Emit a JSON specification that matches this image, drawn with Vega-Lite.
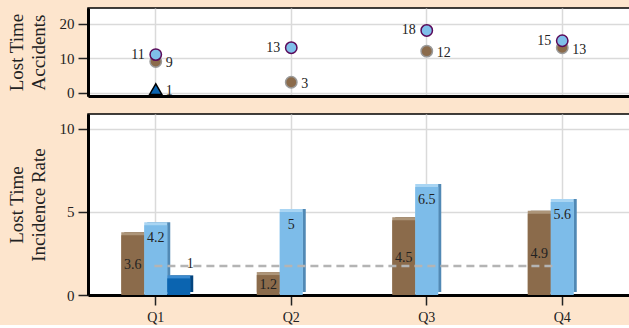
{
  "$schema": "https://vega.github.io/schema/vega-lite/v6.json",
  "background": "#fde5cd",
  "padding": {"left": 6, "top": 7, "right": 0, "bottom": 0},
  "config": {
    "font": "Liberation Serif",
    "view": {"stroke": "#000", "strokeWidth": 1.5, "fill": "white"},
    "axis": {
      "labelFont": "Liberation Serif", "titleFont": "Liberation Serif",
      "labelFontSize": 15, "titleFontSize": 19, "titleFontWeight": "normal",
      "labelColor": "#222", "titleColor": "#222",
      "domainColor": "#000", "domainWidth": 3,
      "tickColor": "#222", "tickWidth": 1.5, "tickSize": 10, "labelPadding": 4,
      "gridColor": "#dadada", "gridWidth": 1.5,
      "titleLineHeight": 22, "titlePadding": 11
    },
    "concat": {"spacing": 11}
  },
  "datasets": {
    "accidents": [
      {"quarter": "Q1", "series": "A", "value": 9},
      {"quarter": "Q2", "series": "A", "value": 3},
      {"quarter": "Q3", "series": "A", "value": 12},
      {"quarter": "Q4", "series": "A", "value": 13},
      {"quarter": "Q1", "series": "B", "value": 11},
      {"quarter": "Q2", "series": "B", "value": 13},
      {"quarter": "Q3", "series": "B", "value": 18},
      {"quarter": "Q4", "series": "B", "value": 15},
      {"quarter": "Q1", "series": "C", "value": 1}
    ],
    "rates": [
      {"quarter": "Q1", "series": "A", "value": 3.6},
      {"quarter": "Q2", "series": "A", "value": 1.2},
      {"quarter": "Q3", "series": "A", "value": 4.5},
      {"quarter": "Q4", "series": "A", "value": 4.9},
      {"quarter": "Q1", "series": "B", "value": 4.2},
      {"quarter": "Q2", "series": "B", "value": 5},
      {"quarter": "Q3", "series": "B", "value": 6.5},
      {"quarter": "Q4", "series": "B", "value": 5.6},
      {"quarter": "Q1", "series": "C", "value": 1}
    ],
    "average": [
      {"start": "Q1", "end": "Q4", "value": 1.75}
    ]
  },
  "vconcat": [
    {
      "width": 542,
      "height": 88,
      "data": {"name": "accidents"},
      "encoding": {
        "x": {"field": "quarter", "type": "nominal",
          "scale": {"type": "band", "domain": ["Q1", "Q2", "Q3", "Q4"], "paddingInner": 0, "paddingOuter": 0},
          "axis": {"title": null, "labels": false, "ticks": false, "grid": true, "bandPosition": 0.5}},
        "y": {"field": "value", "type": "quantitative",
          "scale": {"domain": [-1, 24.5], "nice": false, "zero": false},
          "axis": {"values": [0, 10, 20], "title": ["Lost Time", "Accidents"]}}
      },
      "layer": [
        {"transform": [{"filter": "datum.series == 'A'"}],
         "mark": {"type": "point", "shape": "circle", "filled": true, "size": 130, "fill": "#8b6b4b", "stroke": "#9a9a9a", "strokeWidth": 1.5, "opacity": 1},
         "encoding": {"x": {"field": "quarter", "type": "nominal", "bandPosition": 0.5}}},
        {"transform": [{"filter": "datum.series == 'B'"}],
         "mark": {"type": "point", "shape": "circle", "filled": true, "size": 130, "fill": "#7fbfea", "stroke": "#5a0a5a", "strokeWidth": 1.5, "opacity": 1},
         "encoding": {"x": {"field": "quarter", "type": "nominal", "bandPosition": 0.5}}},
        {"transform": [{"filter": "datum.series == 'C'"}],
         "mark": {"type": "point", "shape": "triangle-up", "filled": true, "size": 150, "fill": "#0b64b0", "stroke": "#000", "strokeWidth": 1.5, "opacity": 1},
         "encoding": {"x": {"field": "quarter", "type": "nominal", "bandPosition": 0.5}}},
        {"transform": [{"filter": "datum.series != 'B'"}],
         "mark": {"type": "text", "align": "left", "baseline": "middle", "dx": 10, "dy": 2, "fontSize": 14, "color": "#222"},
         "encoding": {"x": {"field": "quarter", "type": "nominal", "bandPosition": 0.5}, "text": {"field": "value", "type": "quantitative"}}},
        {"transform": [{"filter": "datum.series == 'B'"}],
         "mark": {"type": "text", "align": "right", "baseline": "middle", "dx": -11, "dy": 0, "fontSize": 14, "color": "#222"},
         "encoding": {"x": {"field": "quarter", "type": "nominal", "bandPosition": 0.5}, "text": {"field": "value", "type": "quantitative"}}}
      ]
    },
    {
      "width": 542,
      "height": 181,
      "data": {"name": "rates"},
      "encoding": {
        "x": {"field": "quarter", "type": "nominal",
          "scale": {"type": "band", "domain": ["Q1", "Q2", "Q3", "Q4"], "paddingInner": 0, "paddingOuter": 0},
          "axis": {"title": null, "labelAngle": 0, "grid": true, "bandPosition": 0.5, "labelFontSize": 14, "labelPadding": 5}},
        "y": {"field": "value", "type": "quantitative",
          "scale": {"domain": [0, 10.9], "nice": false},
          "axis": {"values": [0, 5, 10], "title": ["Lost Time", "Incidence Rate"]}}
      },
      "layer": [
        {"mark": {"type": "bar", "yOffset": -3, "opacity": 1},
         "encoding": {
           "xOffset": {"field": "series", "type": "nominal", "scale": {"domain": ["A", "B", "C"], "paddingInner": 0, "paddingOuter": 0, "range": [36.25, 105.25]}},
           "color": {"field": "series", "type": "nominal", "scale": {"domain": ["A", "B", "C"], "range": ["#6a5136", "#5189b5", "#04457f"]}, "legend": null}}},
        {"mark": {"type": "bar", "yOffset": -3, "opacity": 1},
         "encoding": {
           "xOffset": {"field": "series", "type": "nominal", "scale": {"domain": ["A", "B", "C"], "paddingInner": 0, "paddingOuter": 0, "range": [33.25, 102.25]}},
           "color": {"field": "series", "type": "nominal", "scale": {"domain": ["A", "B", "C"], "range": ["#ad9579", "#a9d5f3", "#3b8bd0"]}, "legend": null}}},
        {"mark": {"type": "bar", "opacity": 1},
         "encoding": {
           "xOffset": {"field": "series", "type": "nominal", "scale": {"domain": ["A", "B", "C"], "paddingInner": 0, "paddingOuter": 0, "range": [33.25, 102.25]}},
           "color": {"field": "series", "type": "nominal", "scale": {"domain": ["A", "B", "C"], "range": ["#8b6b4b", "#7dbce9", "#0b64b0"]}, "legend": null}}},
        {"data": {"name": "average"},
         "mark": {"type": "rule", "color": "#b4b4b4", "strokeWidth": 2.5, "strokeDash": [8, 5]},
         "encoding": {
           "x": {"field": "start", "type": "nominal", "bandPosition": 0.49},
           "x2": {"field": "end", "bandPosition": 0.46},
           "y": {"field": "value", "type": "quantitative"}}},
        {"transform": [{"filter": "datum.series == 'A'"}],
         "mark": {"type": "text", "align": "center", "baseline": "middle", "dx": 11.5, "fontSize": 14, "color": "#222"},
         "encoding": {
           "xOffset": {"field": "series", "type": "nominal", "scale": {"domain": ["A", "B", "C"], "paddingInner": 0, "paddingOuter": 0, "range": [33.25, 102.25]}},
           "y": {"field": "value", "type": "quantitative", "stack": "zero", "bandPosition": 0.5},
           "text": {"field": "value", "type": "quantitative"}}},
        {"transform": [{"filter": "datum.series == 'B'"}],
         "mark": {"type": "text", "align": "center", "baseline": "top", "dy": 6, "fontSize": 14, "color": "#222"},
         "encoding": {
           "xOffset": {"field": "series", "type": "nominal", "scale": {"domain": ["A", "B", "C"], "paddingInner": 0, "paddingOuter": 0, "range": [33.25, 102.25]}},
           "text": {"field": "value", "type": "quantitative"}}},
        {"transform": [{"filter": "datum.series == 'C'"}],
         "mark": {"type": "text", "align": "center", "baseline": "bottom", "dy": -7, "fontSize": 14, "color": "#222"},
         "encoding": {
           "xOffset": {"field": "series", "type": "nominal", "scale": {"domain": ["A", "B", "C"], "paddingInner": 0, "paddingOuter": 0, "range": [33.25, 102.25]}},
           "text": {"field": "value", "type": "quantitative"}}}
      ],
      "resolve": {"scale": {"color": "independent", "xOffset": "independent"}}
    }
  ]
}
